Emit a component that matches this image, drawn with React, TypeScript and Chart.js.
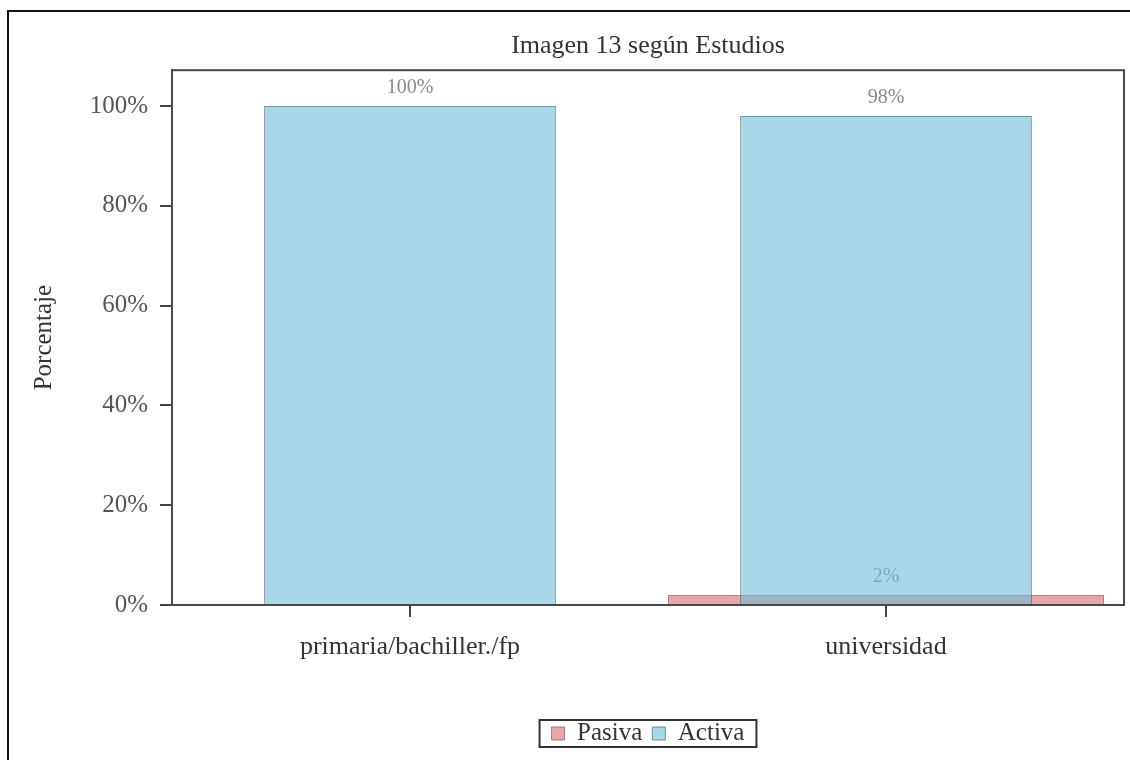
import React, { useEffect, useRef } from "react";
import { Chart, registerables } from "chart.js";

Chart.register(...registerables);

const categories = ["primaria/bachiller./fp", "universidad"];
const pasivaValues = [0, 2];
const activaValues = [100, 98];
const yTickValues = [0, 20, 40, 60, 80, 100];
const chartTitle = "Imagen 13 según Estudios";
const yAxisTitle = "Porcentaje";
const seriesNames = ["Pasiva", "Activa"];

const FONT = "'Liberation Serif', 'Times New Roman', serif";

const framePlugin = {
  id: "framePlugin",
  afterDraw(chart: any) {
    const ctx = chart.ctx;
    const a = chart.chartArea;
    ctx.save();
    // outer image frame
    ctx.strokeStyle = "#111";
    ctx.lineWidth = 2;
    ctx.beginPath();
    ctx.moveTo(8, 760);
    ctx.lineTo(8, 11);
    ctx.lineTo(1130, 11);
    ctx.stroke();
    // plot box
    ctx.strokeStyle = "#4a4a4a";
    ctx.lineWidth = 2;
    ctx.strokeRect(a.left, a.top, a.right - a.left, a.bottom - a.top);
    // legend border
    const lg = chart.legend;
    if (lg && lg.legendHitBoxes && lg.legendHitBoxes.length) {
      const hb = lg.legendHitBoxes;
      const first = hb[0];
      const last = hb[hb.length - 1];
      const l = first.left - 12;
      const r = last.left + last.width + 12;
      const t = first.top - 1;
      const b = first.top + first.height + 1;
      ctx.strokeStyle = "#333";
      ctx.lineWidth = 2;
      ctx.strokeRect(l, t, r - l, b - t);
    }
    ctx.restore();
  },
};

const labelPlugin = {
  id: "labelPlugin",
  afterDatasetDraw(chart: any, args: any) {
    const ctx = chart.ctx;
    const meta = args.meta;
    const ds = chart.data.datasets[args.index];
    ctx.save();
    ctx.font = `20px ${FONT}`;
    ctx.fillStyle = "#8a8a8a";
    ctx.textAlign = "center";
    ctx.textBaseline = "middle";
    meta.data.forEach((el: any, i: number) => {
      const v = ds.data[i];
      if (v > 0) {
        ctx.fillText(`${v}%`, el.x, el.y - 18);
      }
    });
    ctx.restore();
  },
};

export default function App() {
  const ref = useRef<HTMLCanvasElement>(null);

  useEffect(() => {
    if (!ref.current) return;
    const chart = new Chart(ref.current, {
      type: "bar",
      data: {
        labels: categories,
        datasets: [
          {
            label: seriesNames[0],
            data: pasivaValues,
            backgroundColor: "rgb(232,166,166)",
            borderColor: "rgba(150,100,100,0.8)",
            borderWidth: 1,
            grouped: false,
            order: 1,
            barPercentage: 0.916,
            categoryPercentage: 1,
          } as any,
          {
            label: seriesNames[1],
            data: activaValues,
            backgroundColor: "rgba(110,190,215,0.6)",
            borderColor: "rgba(70,100,110,0.7)",
            borderWidth: 1,
            grouped: false,
            order: 0,
            barPercentage: 0.613,
            categoryPercentage: 1,
          } as any,
        ],
      },
      options: {
        responsive: false,
        animation: false,
        devicePixelRatio: 1,
        layout: { padding: { left: 0, right: 6, top: 0, bottom: 4 } },
        plugins: {
          title: {
            display: true,
            text: chartTitle,
            fullSize: false,
            color: "#333",
            font: { family: FONT, size: 26, weight: "normal" },
            padding: { top: 31, bottom: 8 },
          },
          legend: {
            display: true,
            position: "bottom",
            fullSize: false,
            labels: {
              color: "#333",
              font: { family: FONT, size: 25 },
              boxWidth: 13,
              boxHeight: 13,
              padding: 10,
              sort: (a: any, b: any) => a.datasetIndex - b.datasetIndex,
            },
          },
          tooltip: { enabled: false },
        },
        scales: {
          x: {
            offset: true,
            grid: {
              display: true,
              offset: false,
              drawOnChartArea: false,
              drawTicks: true,
              tickLength: 12,
              color: "#444",
              lineWidth: 2,
            },
            border: { display: true, color: "#4a4a4a", width: 2 },
            ticks: {
              color: "#333",
              font: { family: FONT, size: 26 },
              padding: 15,
              maxRotation: 0,
            },
            afterFit(scale: any) {
              scale.height = 106;
            },
          },
          y: {
            min: 0,
            max: 107.2,
            afterBuildTicks(scale: any) {
              scale.ticks = yTickValues.map((v) => ({ value: v }));
            },
            grid: {
              display: true,
              drawOnChartArea: false,
              drawTicks: true,
              tickLength: 12,
              color: "#444",
              lineWidth: 2,
            },
            border: { display: true, color: "#4a4a4a", width: 2 },
            ticks: {
              color: "#555",
              font: { family: FONT, size: 25 },
              padding: 12,
              callback: (v: any) => `${v}%`,
            },
            title: {
              display: true,
              text: yAxisTitle,
              color: "#333",
              font: { family: FONT, size: 25 },
              padding: { top: 29, bottom: 0 },
            },
            afterFit(scale: any) {
              scale.width = 172;
            },
          },
        },
      },
      plugins: [labelPlugin, framePlugin],
    });
    return () => chart.destroy();
  }, []);

  return (
    <div style={{ position: "absolute", left: 0, top: 0, width: 1130, height: 760, background: "#fff" }}>
      <canvas ref={ref} width={1130} height={760} />
    </div>
  );
}
